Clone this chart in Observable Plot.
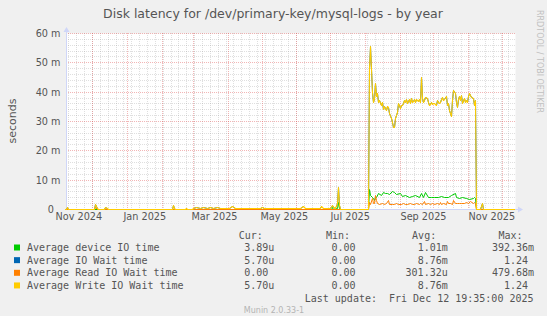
<!DOCTYPE html>
<html><head><meta charset="utf-8">
<script src="https://cdn.jsdelivr.net/npm/d3@7"></script>
<script src="https://cdn.jsdelivr.net/npm/@observablehq/plot@0.6"></script>
<style>
body{margin:0;background:#f0f0f0;}
#wrap{position:relative;width:547px;height:316px;background:#f0f0f0;overflow:hidden;}
#wrap svg{position:absolute;left:0;top:0;}
</style></head><body><div id="wrap"></div>
<script>
// ---------- data ----------
const chartTitle = "Disk latency for /dev/primary-key/mysql-logs - by year";
const yUnitLabel = "seconds";
const xStart = "2024-11-07T19:35:00Z";
const xEnd = "2025-12-12T19:35:00Z";
// label anchor dates (left edge of each month label)
const xLabelDates = ["2024-10-29","2024-12-29","2025-02-27","2025-04-30","2025-07-01","2025-09-01","2025-11-01"];
const xLabels = ["Nov 2024","Jan 2025","Mar 2025","May 2025","Jul 2025","Sep 2025","Nov 2025"];
const yTicks = [0,10,20,30,40,50,60];
const yLabels = ["0","10 m","20 m","30 m","40 m","50 m","60 m"];

// values in milliseconds (m)
const deviceTime = [
["2024-11-07",0],["2025-02-22",0],["2025-02-23",0.3],["2025-02-24",0],
["2025-07-02",0],["2025-07-03",0.8],["2025-07-04",0],["2025-07-07",0.5],["2025-07-08",2.5],["2025-07-09",0.3],["2025-07-10",0],
["2025-08-04",0],["2025-08-05",6.7],["2025-08-06",4.8],["2025-08-07",4.2],["2025-08-08",3.6],["2025-08-09",3.1],["2025-08-10",4.0],
["2025-08-11",4.2],["2025-08-13",5.3],["2025-08-15",4.8],["2025-08-17",5.9],["2025-08-19",5.3],["2025-08-21",5.6],["2025-08-23",5.0],
["2025-08-25",6.1],["2025-08-27",5.9],["2025-08-29",5.0],["2025-09-01",5.3],["2025-09-03",4.4],["2025-09-06",4.8],["2025-09-09",4.2],
["2025-09-12",4.4],["2025-09-15",4.8],["2025-09-18",4.2],["2025-09-20",5.6],["2025-09-22",4.0],["2025-09-24",5.9],["2025-09-26",4.2],
["2025-09-29",4.0],["2025-10-02",4.2],["2025-10-05",4.0],["2025-10-08",4.4],["2025-10-11",4.2],["2025-10-14",4.0],["2025-10-17",4.8],
["2025-10-20",5.6],["2025-10-21",4.0],["2025-10-24",3.6],["2025-10-27",4.0],["2025-10-30",3.6],["2025-11-02",3.3],["2025-11-05",3.6],
["2025-11-06",4.2],["2025-11-07",3.8],["2025-11-08",0],["2025-12-12",0]
];
const readWait = [
["2024-11-07",0],["2024-12-03",0],["2024-12-04",0.8],["2024-12-05",0],
["2025-08-04",0],["2025-08-05",2.5],["2025-08-06",1.6],["2025-08-07",3.6],["2025-08-08",1.9],["2025-08-09",2.2],["2025-08-10",4.8],
["2025-08-11",3.0],["2025-08-12",1.9],["2025-08-14",1.6],["2025-08-16",1.9],["2025-08-18",1.7],["2025-08-20",1.9],["2025-08-22",3.1],
["2025-08-23",1.7],["2025-08-25",1.7],["2025-08-27",1.6],["2025-08-29",1.9],["2025-08-31",1.7],["2025-09-02",1.8],["2025-09-04",1.9],
["2025-09-06",1.6],["2025-09-08",1.7],["2025-09-10",2.2],["2025-09-12",1.7],["2025-09-14",1.8],["2025-09-16",1.9],["2025-09-18",1.7],
["2025-09-19",2.2],["2025-09-21",1.8],["2025-09-23",2.7],["2025-09-24",1.7],["2025-09-26",1.9],["2025-09-28",1.8],["2025-09-30",2.2],
["2025-10-02",1.8],["2025-10-04",1.9],["2025-10-06",1.7],["2025-10-07",2.5],["2025-10-08",1.8],["2025-10-10",1.9],["2025-10-12",1.8],
["2025-10-13",2.8],["2025-10-14",1.9],["2025-10-16",1.9],["2025-10-18",1.8],["2025-10-19",3.1],["2025-10-20",1.9],["2025-10-22",1.9],
["2025-10-24",2.2],["2025-10-26",2.0],["2025-10-28",2.2],["2025-10-30",2.5],["2025-11-01",2.2],["2025-11-03",2.7],["2025-11-05",2.2],
["2025-11-06",2.5],["2025-11-07",2.0],["2025-11-08",0],["2025-12-12",0]
];
const writeWait = [
["2024-11-07",0],["2024-11-08",0],["2024-11-09",0.6],["2024-11-10",0],
["2024-12-03",0],["2024-12-04",1.6],["2024-12-05",0.4],["2024-12-06",0],
["2024-12-12",0],["2024-12-13",0.8],["2024-12-14",0.5],["2024-12-15",0],
["2025-02-10",0],["2025-02-11",1.4],["2025-02-12",0.3],["2025-02-13",0],
["2025-02-22",0],["2025-02-23",0.3],["2025-02-24",0],
["2025-02-28",0],["2025-03-01",0.5],["2025-03-04",0.7],["2025-03-07",0.4],["2025-03-10",0.6],["2025-03-13",0.5],["2025-03-16",0.7],
["2025-03-19",0.5],["2025-03-22",0.6],["2025-03-25",0.5],["2025-03-27",0.2],
["2025-04-02",0.2],["2025-04-05",1.1],["2025-04-07",0.3],["2025-04-12",0.2],["2025-04-18",0.3],["2025-04-24",0.2],["2025-04-30",0.4],
["2025-05-01",0.7],["2025-05-03",0.2],["2025-05-12",0.3],["2025-05-20",0.2],["2025-05-28",0.3],["2025-06-04",0.2],["2025-06-07",0.9],
["2025-06-09",0.2],["2025-06-16",0.3],["2025-06-22",0.2],["2025-06-23",0.9],["2025-06-25",0.2],["2025-07-01",0.3],["2025-07-03",1.4],
["2025-07-05",0.4],["2025-07-06",1.0],["2025-07-07",1.9],["2025-07-08",7.6],["2025-07-09",1.2],["2025-07-10",0],
["2025-08-04",0],["2025-08-05",48],["2025-08-06",55.6],["2025-08-07",40],["2025-08-08",36.6],["2025-08-09",38],["2025-08-10",43],
["2025-08-11",38.5],["2025-08-12",39.5],["2025-08-13",36.5],["2025-08-14",37],["2025-08-15",35.5],["2025-08-16",36.5],["2025-08-17",34],
["2025-08-18",35],["2025-08-19",34.3],["2025-08-20",33.8],["2025-08-21",35],["2025-08-22",34.9],["2025-08-23",32.6],["2025-08-24",31],
["2025-08-25",29.8],["2025-08-26",28.1],["2025-08-27",27.8],["2025-08-28",30.9],["2025-08-29",32],["2025-08-30",33.2],["2025-08-31",36.0],
["2025-09-01",34.5],["2025-09-02",35.5],["2025-09-03",35.5],["2025-09-04",36.2],["2025-09-05",37],["2025-09-06",36.5],["2025-09-07",37.4],
["2025-09-08",36.2],["2025-09-09",37.5],["2025-09-10",36.2],["2025-09-11",37.8],["2025-09-12",36.5],["2025-09-13",36.8],["2025-09-14",37.4],
["2025-09-15",36.5],["2025-09-16",37.5],["2025-09-17",36.8],["2025-09-18",37.4],["2025-09-19",36.6],["2025-09-20",45.1],["2025-09-21",38],
["2025-09-22",36.6],["2025-09-23",37.2],["2025-09-24",38.3],["2025-09-25",37.7],["2025-09-26",36.5],["2025-09-27",35.5],["2025-09-28",35.8],
["2025-09-29",36.6],["2025-09-30",35.8],["2025-10-01",36.0],["2025-10-02",36.2],["2025-10-03",35.5],["2025-10-04",37.0],["2025-10-05",36.4],
["2025-10-06",36.0],["2025-10-07",36.6],["2025-10-08",37.6],["2025-10-09",38.3],["2025-10-10",37.2],["2025-10-11",37.5],["2025-10-12",38.5],
["2025-10-13",35.5],["2025-10-14",36.2],["2025-10-15",33.8],["2025-10-16",32.6],["2025-10-17",31.8],["2025-10-18",37],["2025-10-19",40.6],
["2025-10-20",39.4],["2025-10-21",36.5],["2025-10-22",34.9],["2025-10-23",37.5],["2025-10-24",38.5],["2025-10-25",37.2],["2025-10-26",38.9],
["2025-10-27",36.2],["2025-10-28",37.7],["2025-10-29",36.5],["2025-10-30",37.2],["2025-10-31",36.6],["2025-11-01",38.5],["2025-11-02",39.4],
["2025-11-03",39],["2025-11-04",38.3],["2025-11-05",37.8],["2025-11-06",35.5],["2025-11-07",37],["2025-11-08",0],
["2025-11-12",0],["2025-11-13",2.2],["2025-11-14",0],["2025-12-12",0]
];
// total IO wait coincides with write wait (identical legend statistics)
const ioWait = writeWait;

const seriesNames = ["Average device IO time","Average IO Wait time","Average Read IO Wait time","Average Write IO Wait time"];
const seriesColors = ["#00CC00","#0066B3","#FF8000","#FFCC00"];
const seriesData = [deviceTime, ioWait, readWait, writeWait];
const legendHeaders = ["Cur:","Min:","Avg:","Max:"];
const curValues = ["3.89u","5.70u","0.00","5.70u"];
const minValues = ["0.00","0.00","0.00","0.00"];
const avgValues = ["1.01m","8.76m","301.32u","8.76m"];
const maxValues = ["392.36m","1.24","479.68m","1.24"];
const lastUpdate = "Last update:  Fri Dec 12 19:35:00 2025";
const watermark = "Munin 2.0.33-1";
const sideText = "RRDTOOL / TOBI OETIKER";

// ---------- chart ----------
const axisColor = "#CFD6F8";
const textColor = "#555555";
const x0 = new Date(xStart), x1 = new Date(xEnd);
const xLabelMap = new Map(xLabelDates.map((d, i) => [+new Date(d), xLabels[i]]));
const yLabelMap = new Map(yTicks.map((v, i) => [v, yLabels[i]]));
const minorY = d3.range(2, 60, 2).filter(v => v % 10 !== 0);
const weeks = d3.utcSunday.range(x0, x1);
const months = d3.utcMonth.range(x0, x1);
const toRows = arr => arr.map(([d, v]) => ({date: new Date(d), value: v}));

const axesMark = (index, scales, values, dims) => {
  const g = d3.create("svg:g");
  const L = dims.marginLeft + 0.5, R = dims.width - dims.marginRight;
  const T = dims.marginTop, B = dims.height - dims.marginBottom + 0.5;
  g.append("line").attr("x1", L).attr("x2", L).attr("y1", B).attr("y2", T - 3).attr("stroke", axisColor);
  g.append("line").attr("x1", L).attr("x2", R + 4).attr("y1", B).attr("y2", B).attr("stroke", axisColor);
  return g.node();
};
const arrowsMark = (index, scales, values, dims) => {
  const g = d3.create("svg:g");
  const L = dims.marginLeft + 0.5, R = dims.width - dims.marginRight;
  const T = dims.marginTop, B = dims.height - dims.marginBottom + 0.5;
  g.append("path").attr("d", `M${L-3},${T-1}L${L+3},${T-1}L${L},${T-6}Z`).attr("fill", axisColor);
  g.append("path").attr("d", `M${R+3},${B-3}L${R+3},${B+3}L${R+8},${B}Z`).attr("fill", axisColor);
  return g.node();
};

const lineMarks = seriesData.map((arr, i) => Plot.line(toRows(arr), {
  x: "date", y: "value", stroke: seriesColors[i], strokeWidth: i === 3 ? 1.1 : 1
}));

const chart = Plot.plot({
  width: 547, height: 225,
  marginTop: 33, marginBottom: 16, marginLeft: 66, marginRight: 32,
  x: {type: "utc", domain: [x0, x1], round: true},
  y: {domain: [0, 60], round: true},
  style: {background: "transparent", fontFamily: "DejaVu Sans", fontSize: "9.7px", color: textColor, overflow: "visible"},
  marks: [
    Plot.frame({fill: "white", stroke: "none"}),
    Plot.ruleY(minorY, {stroke: "#8c8c8c", strokeOpacity: 0.28, strokeDasharray: "1,1"}),
    Plot.ruleX(weeks, {stroke: "#8c8c8c", strokeOpacity: 0.28, strokeDasharray: "1,1"}),
    Plot.ruleX(months, {stroke: "#e05050", strokeOpacity: 0.42, strokeDasharray: "1,1"}),
    Plot.ruleY(yTicks.filter(v => v > 0), {stroke: "#e05050", strokeOpacity: 0.42, strokeDasharray: "1,1"}),
    axesMark,
    ...lineMarks,
    arrowsMark,
    Plot.axisX({ticks: xLabelDates.map(d => new Date(d)), tickFormat: d => xLabelMap.get(+d), tickSize: 0, tickPadding: 3.5, textAnchor: "start", label: null}),
    Plot.axisY({ticks: yTicks.filter(v => v > 0), tickFormat: d => yLabelMap.get(d), tickSize: 0, tickPadding: 6, label: null}),
    Plot.axisY({ticks: [0], tickFormat: d => yLabelMap.get(d), tickSize: 0, tickPadding: 12.5, label: null})
  ]
});
const wrap = document.getElementById("wrap");
wrap.appendChild(chart);

// ---------- title, unit label, legend ----------
const ov = d3.select(wrap).append("svg").attr("width", 547).attr("height", 316)
  .style("font-family", "'DejaVu Sans', sans-serif").attr("fill", textColor);
ov.append("text").attr("x", 273).attr("y", 18).attr("text-anchor", "middle").attr("font-size", 12.5).text(chartTitle);
ov.append("text").attr("transform", "translate(15.5,121) rotate(-90)").attr("text-anchor", "middle").attr("font-size", 11).text(yUnitLabel);
ov.append("text").attr("transform", "translate(536.5,10) rotate(90)").attr("font-size", 8).attr("fill", "#c0c0c0").text(sideText);

const mono = "'DejaVu Sans Mono', monospace";
const cw = 6.02;
const colStart = [232.2, 319.4, 405.6, 491.9];
const headerBase = 238.5, rowBase0 = 251.1, rowStep = 12.65;
legendHeaders.forEach((h, j) => {
  ov.append("text").attr("x", colStart[j] + 6.5).attr("y", headerBase).attr("font-family", mono).attr("font-size", 10).text(h);
});
const cols = [curValues, minValues, avgValues, maxValues];
seriesNames.forEach((name, i) => {
  const yb = rowBase0 + i * rowStep;
  ov.append("rect").attr("x", 14).attr("y", yb - 6.6).attr("width", 6).attr("height", 6).attr("fill", seriesColors[i]);
  ov.append("text").attr("x", 27).attr("y", yb).attr("font-family", mono).attr("font-size", 10).text(name);
  cols.forEach((col, j) => {
    const s = col[i];
    const hasUnit = /[a-zA-Z]$/.test(s);
    const xe = colStart[j] + (hasUnit ? 7 : 6) * cw;
    ov.append("text").attr("x", xe).attr("y", yb).attr("text-anchor", "end").attr("font-family", mono).attr("font-size", 10).text(s);
  });
});
ov.append("text").attr("x", 533.5).attr("y", rowBase0 + 4 * rowStep).attr("text-anchor", "end")
  .attr("font-family", mono).attr("font-size", 10).style("white-space", "pre").text(lastUpdate);
ov.append("text").attr("x", 274).attr("y", 313.2).attr("text-anchor", "middle").attr("font-size", 8).attr("fill", "#b4b4b4").text(watermark);
</script></body></html>
